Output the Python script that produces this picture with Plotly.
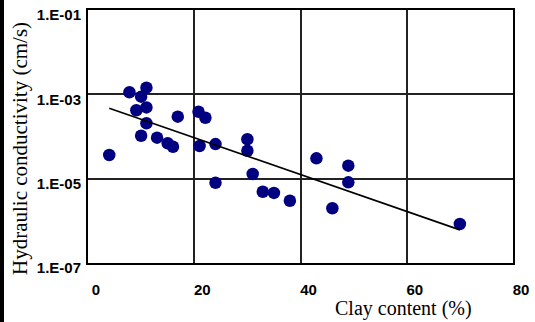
import plotly.graph_objects as go

clay = [7.8, 11.0, 10.0, 9.1, 11.0, 11.0, 16.9, 10.0, 13.0, 15.0, 16.0, 4.0,
        20.8, 22.1, 21.0, 24.0, 30.0, 30.0, 31.0, 24.0, 32.9, 35.0,
        43.0, 49.0, 49.0, 38.0, 46.0, 70.0]
conductivity = [1.12e-3, 1.44e-3, 8.8e-4, 4.2e-4, 4.9e-4, 2.06e-4, 2.95e-4, 1.04e-4, 9.4e-5,
                6.9e-5, 5.7e-5, 3.65e-5, 3.87e-4, 2.79e-4, 5.96e-5, 6.6e-5, 8.6e-5,
                4.6e-5, 1.29e-5, 8.0e-6, 4.9e-6, 4.6e-6, 3.04e-5, 2.03e-5, 8.2e-6,
                3.0e-6, 1.99e-6, 8.4e-7]
trend_x = [4.0, 70.0]
trend_y = [4.7e-4, 6.1e-7]
y_tickvals = [1e-7, 1e-5, 1e-3, 1e-1]
y_ticktext = ["1.E-07", "1.E-05", "1.E-03", "1.E-01"]
x_tickvals = [0, 20, 40, 60, 80]

W, H = 535, 322
L, R, T, B = 88, 22, 10, 59
pw, ph = W - L - R, H - T - B

def px(x):
    return (x - L) / pw

def py(y):
    return (H - B - y) / ph

fig = go.Figure()
fig.add_trace(go.Scatter(x=clay, y=conductivity, mode="markers",
                         marker=dict(size=12.5, color="#000080", line=dict(width=0)),
                         showlegend=False, hoverinfo="skip"))
fig.add_trace(go.Scatter(x=trend_x, y=trend_y, mode="lines",
                         line=dict(color="black", width=1.6), showlegend=False, hoverinfo="skip"))

tickfont = dict(family="Liberation Sans, Arial, sans-serif", size=15, color="black", weight="bold")
fig.update_xaxes(range=[-0.001, 80.001], tickvals=x_tickvals, showgrid=True, gridcolor="#222",
                 gridwidth=1.5, showline=True, linecolor="black", linewidth=2, mirror=True,
                 ticks="", zeroline=False, tickfont=tickfont, ticklabelshift=8,
                 ticklabelstandoff=12, automargin=False, ticklabeloverflow="allow")
fig.update_yaxes(type="log", range=[-7.0001, -0.9999], tickvals=y_tickvals, ticktext=y_ticktext,
                 showgrid=True, gridcolor="#222", gridwidth=1.5, showline=True,
                 linecolor="black", linewidth=2, mirror=True, ticks="", zeroline=False,
                 tickfont=tickfont, ticklabelshift=5, ticklabelstandoff=2, automargin=False,
                 ticklabeloverflow="allow")

titlefont = dict(family="Liberation Serif, Times New Roman, serif", size=20, color="black")
fig.add_annotation(text="Clay content (%)", xref="paper", yref="paper",
                   x=px(403.5), y=py(308), showarrow=False, font=titlefont,
                   xanchor="center", yanchor="middle")
fig.add_annotation(text="Hydraulic conductivity (cm/s)", xref="paper", yref="paper",
                   x=px(20), y=py(149), showarrow=False, font=dict(titlefont, size=21),
                   textangle=-90, xanchor="center", yanchor="middle")
fig.add_shape(type="rect", xref="paper", yref="paper", x0=px(0), x1=px(4), y0=py(322), y1=py(0),
              fillcolor="black", line=dict(width=0), layer="above")

fig.update_layout(width=W, height=H, margin=dict(l=L, r=R, t=T, b=B, autoexpand=False),
                  paper_bgcolor="white", plot_bgcolor="white", hovermode=False)
fig.write_html("out.html", config={"displayModeBar": False},
               post_script="document.body.style.margin='0';")
